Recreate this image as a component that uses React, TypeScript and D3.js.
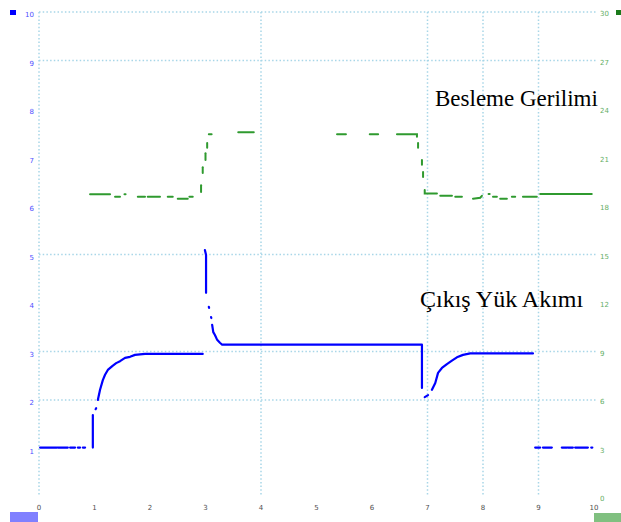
import * as d3 from 'd3';

// scope screen: 10 x 10 divisions
const gridXDivs = [0, 4, 7, 8, 9];
const gridYDivs = [10, 9, 5, 3, 2];

const leftTicks = ['10', '9', '8', '7', '6', '5', '4', '3', '2', '1'];
const rightTicks = ['30', '27', '24', '21', '18', '15', '12', '9', '6', '3', '0'];
const bottomTicks = ['0', '1', '2', '3', '4', '5', '6', '7', '8', '9', '10'];

// supply voltage trace (green), broken into sampled runs [div, div]
const greenTrace: number[][][] = [
  [[0.92, 6.24], [1.28, 6.24]],
  [[1.37, 6.19], [1.46, 6.19]],
  [[1.54, 6.24], [1.56, 6.24]],
  [[1.78, 6.19], [1.91, 6.19]],
  [[1.96, 6.19], [2.18, 6.19]],
  [[2.32, 6.19], [2.41, 6.19]],
  [[2.5, 6.15], [2.68, 6.15]],
  [[2.71, 6.19], [2.77, 6.19]],
  [[2.92, 6.29], [2.92, 6.43]],
  [[2.95, 6.68], [2.95, 6.8]],
  [[3.0, 6.95], [3.0, 7.09]],
  [[3.03, 7.2], [3.03, 7.3]],
  [[3.06, 7.48], [3.11, 7.48]],
  [[3.59, 7.52], [3.87, 7.52]],
  [[5.37, 7.48], [5.53, 7.48]],
  [[5.96, 7.48], [6.11, 7.48]],
  [[6.45, 7.48], [6.81, 7.48], [6.81, 7.43]],
  [[6.83, 7.2], [6.83, 7.3]],
  [[6.9, 6.85], [6.9, 6.95]],
  [[6.92, 6.6], [6.92, 6.7]],
  [[6.95, 6.33], [6.95, 6.26], [7.17, 6.26]],
  [[7.23, 6.21], [7.44, 6.21]],
  [[7.5, 6.19], [7.62, 6.19]],
  [[7.82, 6.15], [7.95, 6.17], [7.98, 6.21]],
  [[8.1, 6.25], [8.12, 6.25]],
  [[8.18, 6.19], [8.25, 6.19]],
  [[8.31, 6.15], [8.43, 6.15]],
  [[8.52, 6.19], [8.58, 6.19]],
  [[8.72, 6.19], [8.97, 6.19]],
  [[9.03, 6.25], [9.96, 6.25]],
];

// output load current trace (blue)
const blueTrace: number[][][] = [
  [[0.02, 1.02], [0.32, 1.02]],
  [[0.34, 1.02], [0.52, 1.02]],
  [[0.56, 1.02], [0.65, 1.02]],
  [[0.7, 1.02], [0.74, 1.02]],
  [[0.79, 1.02], [0.83, 1.02]],
  [[0.97, 1.02], [0.97, 1.69]],
  [[1.02, 1.81], [1.03, 1.83]],
  [[1.06, 2.0], [1.1, 2.21], [1.15, 2.41], [1.19, 2.52], [1.24, 2.62], [1.32, 2.7], [1.39, 2.76],
   [1.46, 2.8], [1.55, 2.87], [1.64, 2.89], [1.73, 2.93], [1.91, 2.95], [2.95, 2.95]],
  [[2.99, 5.09], [3.01, 4.99], [3.01, 4.21]],
  [[3.06, 3.92], [3.065, 3.9]],
  [[3.1, 3.71], [3.105, 3.69]],
  [[3.12, 3.55], [3.14, 3.4], [3.17, 3.34], [3.21, 3.24], [3.26, 3.18], [3.3, 3.14], [6.9, 3.14], [6.9, 2.25]],
  [[6.95, 2.06], [7.01, 2.1]],
  [[7.08, 2.21], [7.14, 2.35], [7.19, 2.56], [7.26, 2.66], [7.35, 2.74], [7.44, 2.81], [7.53, 2.88],
   [7.64, 2.93], [7.77, 2.96], [8.9, 2.96]],
  [[8.94, 1.02], [9.03, 1.02]],
  [[9.08, 1.02], [9.24, 1.02]],
  [[9.42, 1.02], [9.51, 1.02]],
  [[9.53, 1.02], [9.62, 1.02]],
  [[9.66, 1.02], [9.89, 1.02]],
  [[9.95, 1.02], [9.97, 1.02]],
];

export default function App() {
  const W = 621, H = 522;
  const x = d3.scaleLinear().domain([0, 10]).range([39, 594]);
  const y = d3.scaleLinear().domain([0, 10]).range([497, 12]);
  const line = d3.line<number[]>().x(d => x(d[0])).y(d => y(d[1]));
  const gridColor = '#a8d6e8';

  return (
    <svg width={W} height={H} style={{ position: 'absolute', left: 0, top: 0, background: '#fff' }}>
      {/* grid */}
      {gridXDivs.map(d => (
        <line key={'gx' + d} x1={x(d)} x2={x(d)} y1={y(10)} y2={y(0.05)}
          stroke={gridColor} strokeWidth={1.5} strokeDasharray="1.5,2.2" />
      ))}
      {gridYDivs.map(d => (
        <line key={'gy' + d} x1={x(0)} x2={x(10) + 3} y1={y(d)} y2={y(d)}
          stroke={gridColor} strokeWidth={1.5} strokeDasharray="1.5,2.2" />
      ))}

      {/* traces */}
      {greenTrace.map((seg, i) => (
        <path key={'g' + i} d={line(seg) ?? ''} fill="none" stroke="#2f9a2f"
          strokeWidth={2} strokeLinecap="round" />
      ))}
      {blueTrace.map((seg, i) => (
        <path key={'b' + i} d={line(seg) ?? ''} fill="none" stroke="#0000ff"
          strokeWidth={2.2} strokeLinecap="round" strokeLinejoin="round" />
      ))}

      {/* scale labels (faint on the original capture) */}
      <g fontFamily="DejaVu Sans" fontSize={7} fill="#2020ff" opacity={0.8}>
        {leftTicks.map((t, i) => (
          <text key={'l' + t} x={x(0) - 5} y={y(10 - i) + 5} textAnchor="end">{t}</text>
        ))}
      </g>
      <g fontFamily="DejaVu Sans" fontSize={7} fill="#3a9a3a" opacity={0.8}>
        {rightTicks.map((t, i) => (
          <text key={'r' + t} x={x(10) + 6} y={y(10 - i) + 4}>{t}</text>
        ))}
      </g>
      <g fontFamily="DejaVu Sans" fontSize={7} fill="#222" textAnchor="middle" opacity={0.8}>
        {bottomTicks.map((t, i) => (
          <text key={'bt' + t} x={x(i)} y={510}>{t}</text>
        ))}
      </g>

      {/* channel markers */}
      <rect x={10} y={10} width={6} height={5} fill="#0000ff" />
      <rect x={616} y={10} width={5} height={5} fill="#1a7a1a" />
      <rect x={10} y={512} width={28} height={10} fill="#8080ff" />
      <rect x={594} y={513} width={27} height={9} fill="#80c080" />

      {/* trace names */}
      <text x={435} y={106} fontFamily="Liberation Serif" fontSize={23} fill="#000">Besleme Gerilimi</text>
      <text x={420} y={307} fontFamily="Liberation Serif" fontSize={24} fill="#000">Çıkış Yük Akımı</text>
    </svg>
  );
}
